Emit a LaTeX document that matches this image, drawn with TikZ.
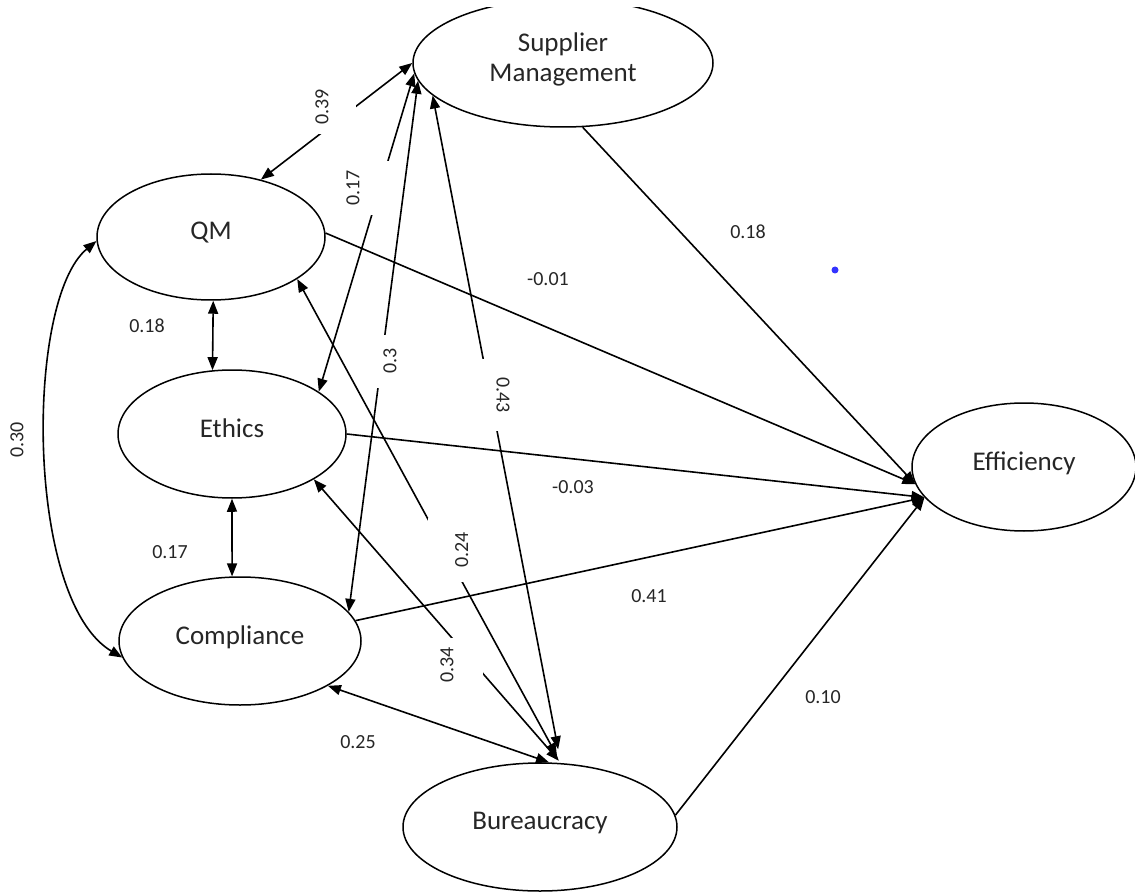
\documentclass[tikz,border=0pt]{standalone}
\usepackage{fontspec}
\setmainfont{Carlito}
\usetikzlibrary{shapes.geometric, arrows.meta}

\tikzset{
  construct/.style={draw, ellipse, line width=0.75pt, minimum height=64pt, text depth=0.6em,
    font=\fontsize{13.5}{15}\selectfont, text=black!85, align=center},
  coef/.style={font=\fontsize{10}{12}\selectfont, text=black!85, inner sep=1pt},
  gapcoef/.style={coef, fill=white},
  link/.style={->, line width=0.8pt},
  cov/.style={<->, line width=0.8pt},
}

\begin{document}
\begin{tikzpicture}[x=0.5pt, y=-0.5pt, >={Triangle[length=6.5pt, width=5pt]}]
  \useasboundingbox (0,0) rectangle (1135,893);
  \clip (0,8) rectangle (1135,893);

  % constructs
  \node[construct, minimum width=150pt] (sm) at (563,63) {Supplier\\Management};
  \node[construct, minimum width=114pt, minimum height=63pt] (qm) at (211,237) {QM};
  \node[construct, minimum width=114pt] (eth) at (232,434) {Ethics};
  \node[construct, minimum width=121pt] (com) at (240,641) {Compliance};
  \node[construct, minimum width=112pt] (eff) at (1024,467) {Efficiency};
  \node[construct, minimum width=137pt] (bur) at (540,827) {Bureaucracy};

  % paths into Efficiency
  \draw[link] (sm.287) -- (eff.189);
  \draw[link] (qm.2) -- (eff.189);
  \draw[link] (eth.east) -- (eff.197);
  \draw[link] (com.10) -- (eff.197);
  \draw[link] (bur.5) -- (eff.197);

  % correlations
  \draw[cov] (sm.180) -- (qm.49);
  \draw[cov] (sm.184) -- (eth.26);
  \draw[cov] (sm.187) -- (com.15);
  \draw[cov, shorten >=7pt] (sm.194) -- (bur.72);
  \draw[cov, shorten >=4pt] (qm.334) -- (bur.72);
  \draw[cov, shorten >=1.5pt] (eth.331) -- (bur.72);
  \draw[cov] (com.333) -- (bur.82);
  \draw[cov] (qm.272) -- (eth.107);
  \draw[cov] (eth.south) -- (com.97);
  \draw[cov] (qm.182) .. controls (25,300) and (25,600) .. (com.188);

  % coefficients sitting on the lines
  \node[gapcoef, rotate=90, minimum width=27pt, text height=9.2pt, text depth=12.8pt] (l39) at (332,107) {0.39};
  \node[gapcoef, rotate=90, minimum width=27pt, text height=7.2pt, text depth=15.3pt] (l17a) at (367.5,188) {0.17};
  \node[gapcoef, rotate=90, minimum width=26.5pt, text height=14.2pt, text depth=0.3pt] (l3) at (382.5,361) {0.3};
  \node[gapcoef, rotate=-90, minimum width=36pt, text height=6.2pt, text depth=11.3pt] (l43) at (491.5,395) {0.43};
  \node[gapcoef, rotate=90, minimum width=32pt, text height=19.2pt, text depth=0pt] (l24) at (449,550) {0.24};
  \node[gapcoef, rotate=90, minimum width=27.5pt, text height=6.45pt, text depth=13.8pt] (l34) at (460.75,665) {0.34};
  \node[coef, rotate=90] (l30) at (17,440) {0.30};

  % other coefficients
  \node[coef] (l18a) at (147,326) {0.18};
  \node[coef] (l17b) at (170,552) {0.17};
  \node[coef] (l18b) at (748,232) {0.18};
  \node[coef] (l01) at (548,279) {-0.01};
  \node[coef] (l03) at (573,487) {-0.03};
  \node[coef] (l41) at (649,596) {0.41};
  \node[coef] (l10) at (823,697) {0.10};
  \node[coef] (l25) at (358,742) {0.25};

  \fill[blue!80!white] (835,270) circle (3.5);
\end{tikzpicture}
\end{document}
